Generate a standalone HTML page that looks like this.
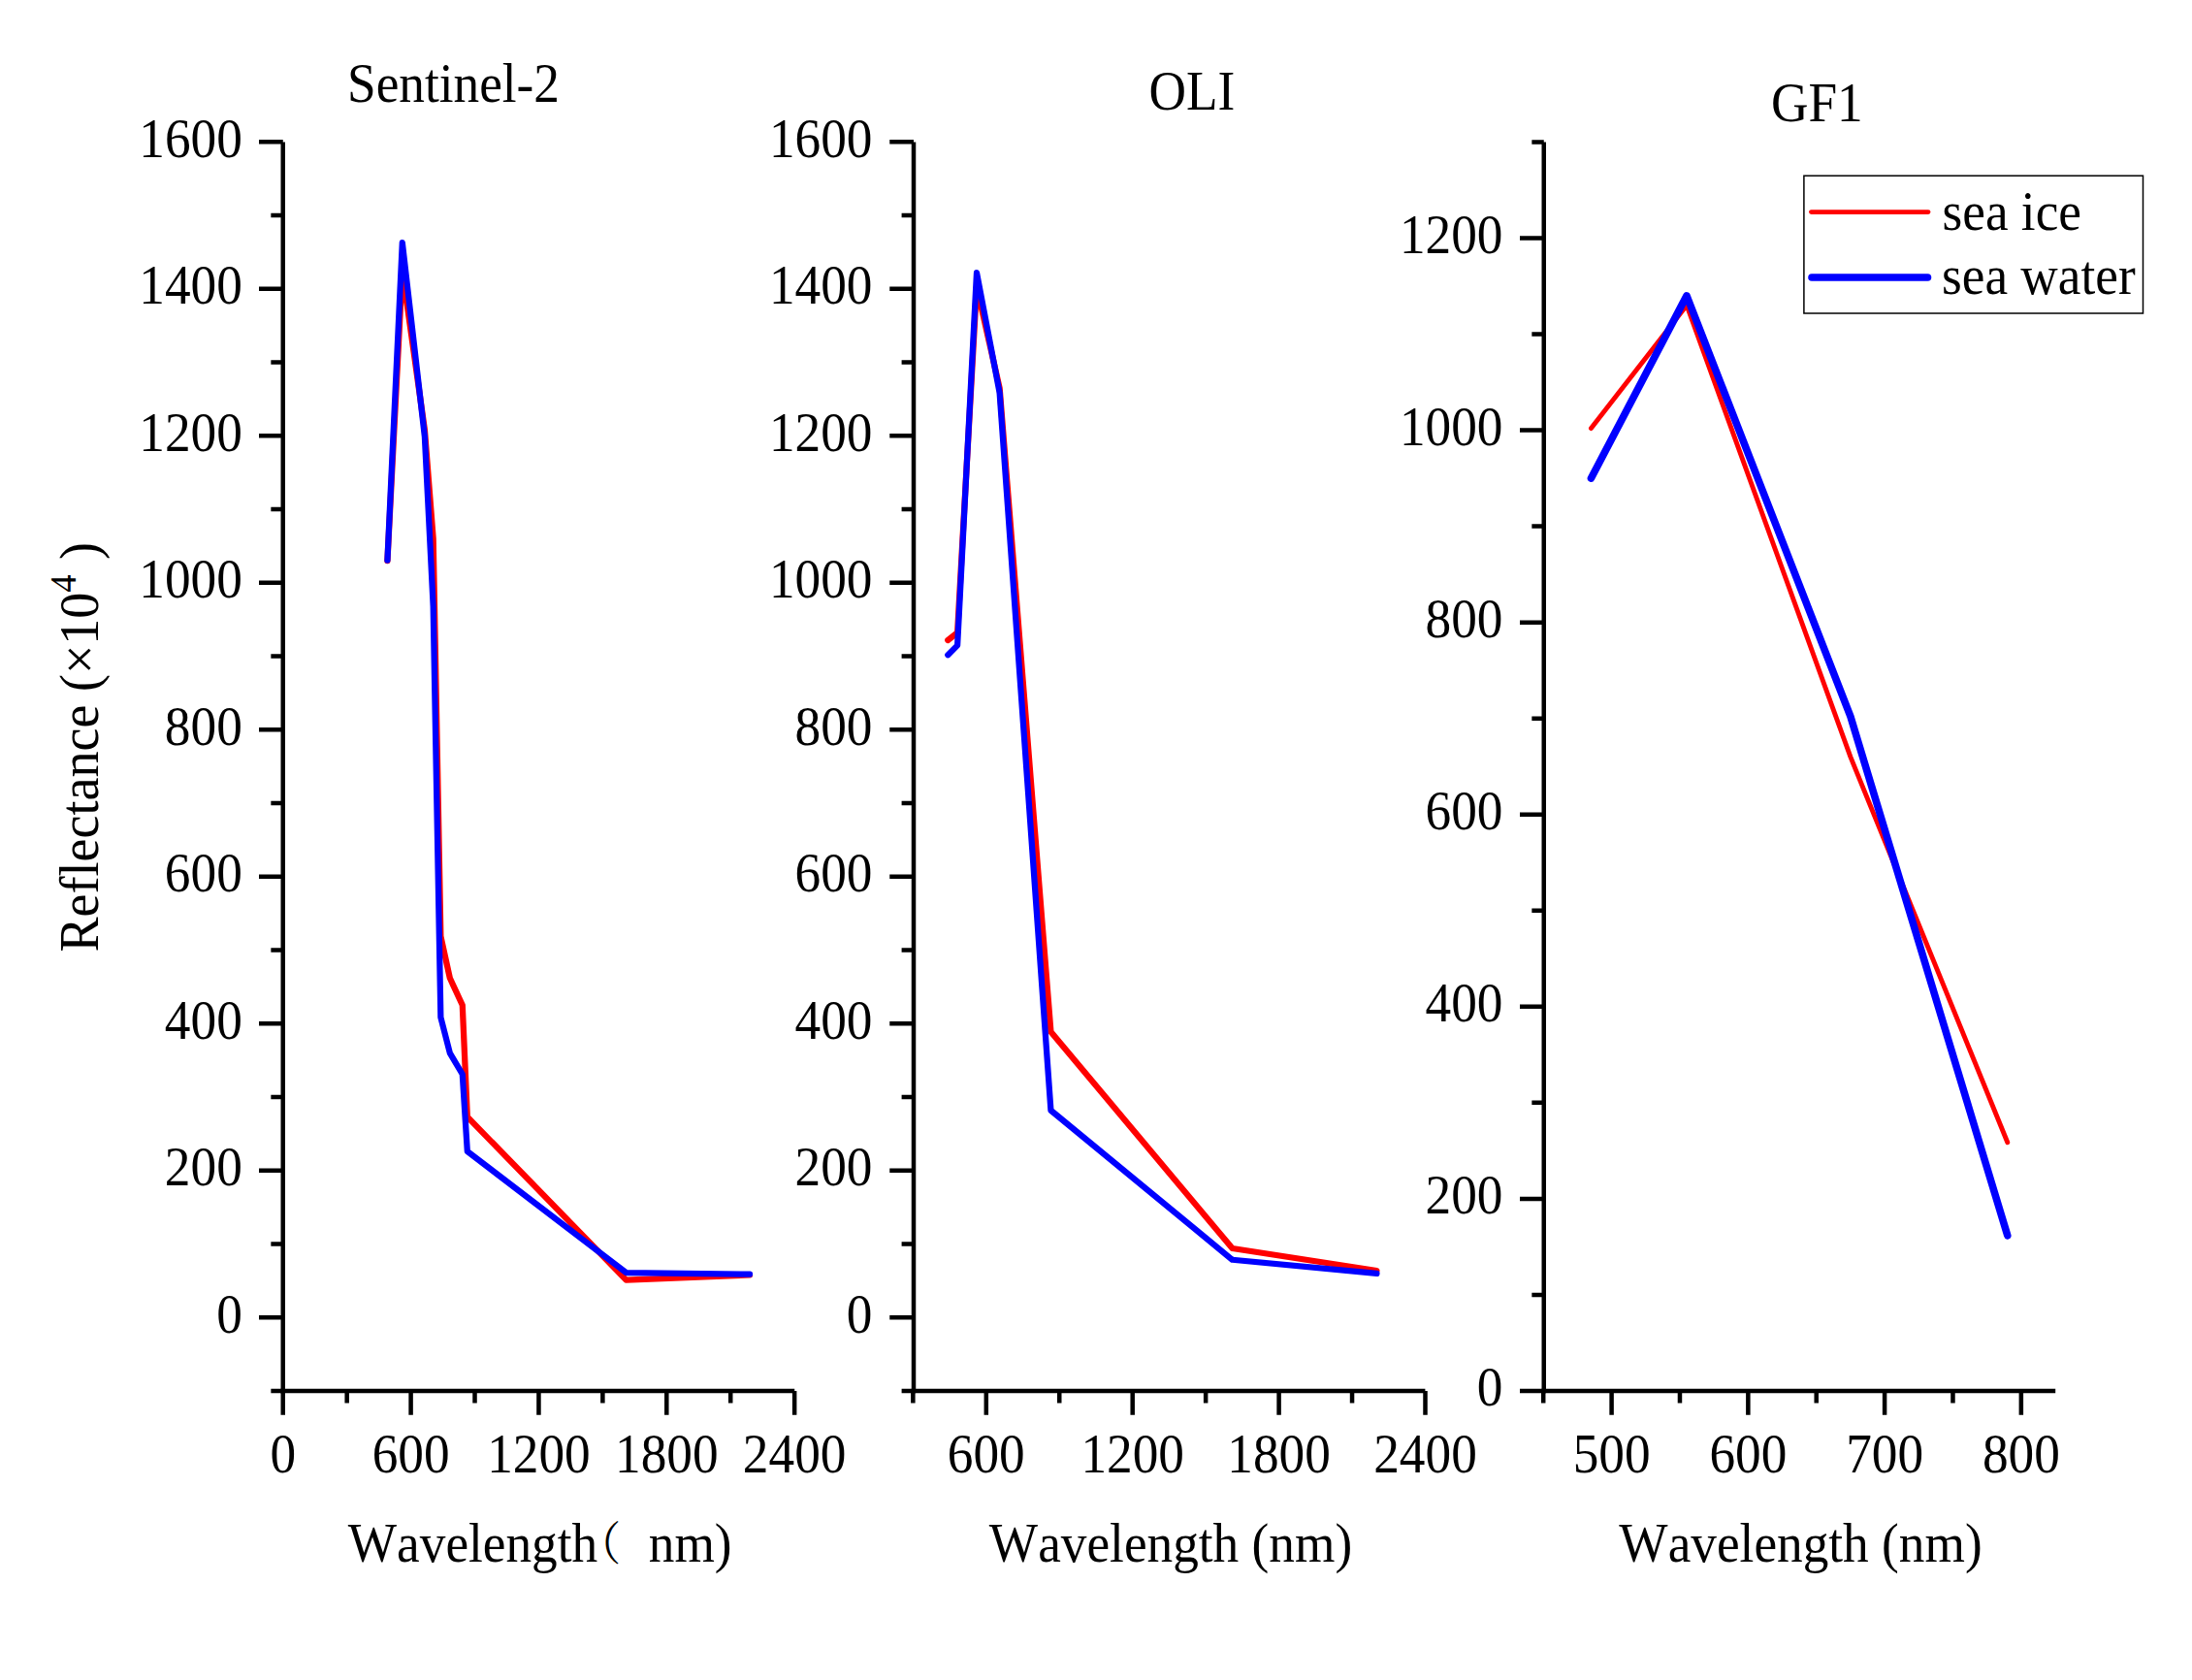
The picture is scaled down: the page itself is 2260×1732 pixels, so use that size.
<!DOCTYPE html>
<html><head><meta charset="utf-8"><title>Reflectance spectra</title>
<style>
html,body{margin:0;padding:0;background:#fff;}
svg{display:block}
text{font-family:"Liberation Serif","Noto Serif CJK SC",serif;font-size:53.3px;fill:#000;font-kerning:none;font-variant-ligatures:none;font-feature-settings:"liga" 0,"clig" 0,"kern" 0}
.ax{stroke:#000;stroke-width:4.5;fill:none;stroke-linecap:butt}
.r{stroke:#f00;fill:none;stroke-linecap:round;stroke-linejoin:round}
.b{stroke:#00f;fill:none;stroke-linecap:round;stroke-linejoin:round}
</style></head><body>
<svg width="2260" height="1732" viewBox="0 0 2260 1732">
<rect width="2260" height="1732" fill="#fff"/>
<path class="ax" d="M291.75 146.4V1436.25"/>
<path class="ax" d="M289.5 1434.0H819.2"/>
<path class="ax" d="M291.75 1358.20h-24.75M291.75 1206.72h-24.75M291.75 1055.24h-24.75M291.75 903.76h-24.75M291.75 752.28h-24.75M291.75 600.80h-24.75M291.75 449.32h-24.75M291.75 297.84h-24.75M291.75 146.36h-24.75M291.75 1433.94h-12.4M291.75 1282.46h-12.4M291.75 1130.98h-12.4M291.75 979.50h-12.4M291.75 828.02h-12.4M291.75 676.54h-12.4M291.75 525.06h-12.4M291.75 373.58h-12.4M291.75 222.10h-12.4M291.75 1434.0v24.75M423.60 1434.0v24.75M555.45 1434.0v24.75M687.30 1434.0v24.75M819.15 1434.0v24.75M357.68 1434.0v12.4M489.52 1434.0v12.4M621.38 1434.0v12.4M753.23 1434.0v12.4"/>
<text transform="matrix(1 0 0 1.055 249.80 1373.60)" text-anchor="end">0</text>
<text transform="matrix(1 0 0 1.055 249.80 1222.12)" text-anchor="end">200</text>
<text transform="matrix(1 0 0 1.055 249.80 1070.64)" text-anchor="end">400</text>
<text transform="matrix(1 0 0 1.055 249.80 919.16)" text-anchor="end">600</text>
<text transform="matrix(1 0 0 1.055 249.80 767.68)" text-anchor="end">800</text>
<text transform="matrix(1 0 0 1.055 249.80 616.20)" text-anchor="end">1000</text>
<text transform="matrix(1 0 0 1.055 249.80 464.72)" text-anchor="end">1200</text>
<text transform="matrix(1 0 0 1.055 249.80 313.24)" text-anchor="end">1400</text>
<text transform="matrix(1 0 0 1.055 249.80 161.76)" text-anchor="end">1600</text>
<text transform="matrix(1 0 0 1.055 291.75 1517.60)" text-anchor="middle">0</text>
<text transform="matrix(1 0 0 1.055 423.60 1517.60)" text-anchor="middle">600</text>
<text transform="matrix(1 0 0 1.055 555.45 1517.60)" text-anchor="middle">1200</text>
<text transform="matrix(1 0 0 1.055 687.30 1517.60)" text-anchor="middle">1800</text>
<text transform="matrix(1 0 0 1.055 819.15 1517.60)" text-anchor="middle">2400</text>
<path class="r" stroke-width="6.25" d="M399.43 578.08L414.81 278.91L437.88 443.26L446.67 555.36L454.37 965.11L463.81 1008.28L476.78 1036.31L481.83 1151.43L645.55 1319.57L773.00 1314.50"/>
<path class="b" stroke-width="6.25" d="M399.43 577.62L414.81 250.12L437.88 450.08L446.67 625.04L454.37 1048.73L463.81 1085.54L476.78 1107.50L481.83 1187.03L645.55 1312.07L773.00 1313.74"/>
<text transform="matrix(1 0 0 1.055 358.00 104.60)">Sentinel-2</text>
<text transform="matrix(1 0 0 1.055 358.80 1610.00)">Wavelength<tspan x="236.5" dy="-1.5" font-size="45">（</tspan><tspan x="310" dy="1.5">nm)</tspan></text>
<path class="ax" d="M942.0 146.4V1436.25"/>
<path class="ax" d="M939.75 1434.0H1469.4"/>
<path class="ax" d="M942.0 1358.20h-24.75M942.0 1206.72h-24.75M942.0 1055.24h-24.75M942.0 903.76h-24.75M942.0 752.28h-24.75M942.0 600.80h-24.75M942.0 449.32h-24.75M942.0 297.84h-24.75M942.0 146.36h-24.75M942.0 1433.94h-12.4M942.0 1282.46h-12.4M942.0 1130.98h-12.4M942.0 979.50h-12.4M942.0 828.02h-12.4M942.0 676.54h-12.4M942.0 525.06h-12.4M942.0 373.58h-12.4M942.0 222.10h-12.4M1016.80 1434.0v24.75M1167.70 1434.0v24.75M1318.60 1434.0v24.75M1469.50 1434.0v24.75M941.35 1434.0v12.4M1092.25 1434.0v12.4M1243.15 1434.0v12.4M1394.05 1434.0v12.4"/>
<text transform="matrix(1 0 0 1.055 899.50 1373.60)" text-anchor="end">0</text>
<text transform="matrix(1 0 0 1.055 899.50 1222.12)" text-anchor="end">200</text>
<text transform="matrix(1 0 0 1.055 899.50 1070.64)" text-anchor="end">400</text>
<text transform="matrix(1 0 0 1.055 899.50 919.16)" text-anchor="end">600</text>
<text transform="matrix(1 0 0 1.055 899.50 767.68)" text-anchor="end">800</text>
<text transform="matrix(1 0 0 1.055 899.50 616.20)" text-anchor="end">1000</text>
<text transform="matrix(1 0 0 1.055 899.50 464.72)" text-anchor="end">1200</text>
<text transform="matrix(1 0 0 1.055 899.50 313.24)" text-anchor="end">1400</text>
<text transform="matrix(1 0 0 1.055 899.50 161.76)" text-anchor="end">1600</text>
<text transform="matrix(1 0 0 1.055 1016.80 1517.60)" text-anchor="middle">600</text>
<text transform="matrix(1 0 0 1.055 1167.70 1517.60)" text-anchor="middle">1200</text>
<text transform="matrix(1 0 0 1.055 1318.60 1517.60)" text-anchor="middle">1800</text>
<text transform="matrix(1 0 0 1.055 1469.50 1517.60)" text-anchor="middle">2400</text>
<path class="r" stroke-width="6.25" d="M977.31 660.03L987.12 652.30L1006.99 295.57L1030.63 400.09L1083.45 1063.72L1270.56 1287.00L1419.45 1310.03"/>
<path class="b" stroke-width="6.25" d="M977.31 675.18L987.12 665.41L1006.99 281.18L1030.63 404.94L1083.45 1144.76L1270.56 1298.74L1419.45 1312.91"/>
<text transform="matrix(1 0 0 1.055 1184.50 112.50)">OLI</text>
<text transform="matrix(1 0 0 1.055 1207.00 1610.00)" text-anchor="middle">Wavelength (nm)</text>
<path class="ax" d="M1591.75 146.4V1436.25"/>
<path class="ax" d="M1589.5 1434.0H2119.2"/>
<path class="ax" d="M1591.75 1434.00h-24.75M1591.75 1235.91h-24.75M1591.75 1037.82h-24.75M1591.75 839.72h-24.75M1591.75 641.63h-24.75M1591.75 443.54h-24.75M1591.75 245.45h-24.75M1591.75 1334.95h-12.4M1591.75 1136.86h-12.4M1591.75 938.77h-12.4M1591.75 740.68h-12.4M1591.75 542.59h-12.4M1591.75 344.49h-12.4M1591.75 146.40h-12.4M1661.60 1434.0v24.75M1802.35 1434.0v24.75M1943.10 1434.0v24.75M2083.85 1434.0v24.75M1591.22 1434.0v12.4M1731.97 1434.0v12.4M1872.72 1434.0v12.4M2013.47 1434.0v12.4"/>
<text transform="matrix(1 0 0 1.055 1549.50 1449.40)" text-anchor="end">0</text>
<text transform="matrix(1 0 0 1.055 1549.50 1251.31)" text-anchor="end">200</text>
<text transform="matrix(1 0 0 1.055 1549.50 1053.22)" text-anchor="end">400</text>
<text transform="matrix(1 0 0 1.055 1549.50 855.12)" text-anchor="end">600</text>
<text transform="matrix(1 0 0 1.055 1549.50 657.03)" text-anchor="end">800</text>
<text transform="matrix(1 0 0 1.055 1549.50 458.94)" text-anchor="end">1000</text>
<text transform="matrix(1 0 0 1.055 1549.50 260.85)" text-anchor="end">1200</text>
<text transform="matrix(1 0 0 1.055 1661.60 1517.60)" text-anchor="middle">500</text>
<text transform="matrix(1 0 0 1.055 1802.35 1517.60)" text-anchor="middle">600</text>
<text transform="matrix(1 0 0 1.055 1943.10 1517.60)" text-anchor="middle">700</text>
<text transform="matrix(1 0 0 1.055 2083.85 1517.60)" text-anchor="middle">800</text>
<path class="r" stroke-width="4.9" d="M1640.49 441.56L1739.01 314.78L1907.91 780.30L2069.78 1177.77"/>
<path class="b" stroke-width="7.6" d="M1640.49 493.06L1739.01 304.88L1907.91 738.70L2069.78 1273.74"/>
<text transform="matrix(1 0 0 1.055 1826.00 124.50)">GF1</text>
<text transform="matrix(1 0 0 1.055 1856.50 1610.00)" text-anchor="middle">Wavelength (nm)</text>
<rect x="1859.9" y="181.2" width="349.6" height="141.8" fill="#fff" stroke="#000" stroke-width="1.5"/>
<path class="r" stroke-width="4.9" d="M1867.5 218.6H1988"/>
<path class="b" stroke-width="7.6" d="M1868 286H1987.5"/>
<text transform="matrix(1 0 0 1.055 2002.50 236.50)">sea ice</text>
<text transform="matrix(1 0 0 1.055 2002.00 303.00)">sea water</text>
<text transform="translate(100.5 979.4) rotate(-90) scale(1 1.055)" x="-2" style="font-size:54px">Reflectance (×10<tspan font-size="36.5" dy="-21.5">4</tspan><tspan dy="21.5" dx="15.5">)</tspan></text>
</svg></body></html>
